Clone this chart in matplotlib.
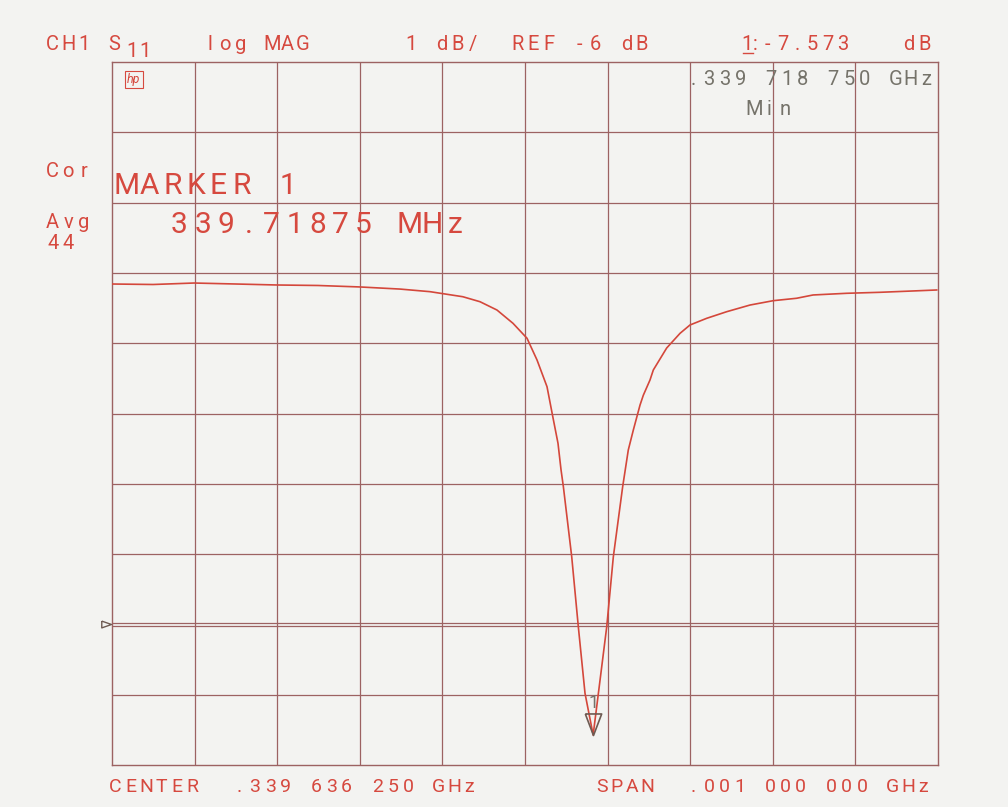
"""
Network analyzer screen dump: S11 log magnitude around a 339.7 MHz resonance.
"""
import matplotlib
matplotlib.use("Agg")
import matplotlib.pyplot as plt
from matplotlib.lines import Line2D

W, H = 1008, 807

# ── Instrument settings ──
center_mhz = 339.63625
span_mhz = 1.0
ref_db = -6.0
db_per_div = 1.0
marker_mhz = 339.71875
marker_db = -7.573

# ── Trace (MHz, dB) ──
freq_mhz = [
    339.1363, 339.1860, 339.2355, 339.2864, 339.3360, 339.3856, 339.4365,
    339.4850, 339.5212, 339.5610, 339.5818, 339.6023, 339.6217, 339.6387,
    339.6508, 339.6629, 339.6702, 339.6762, 339.6799, 339.6827, 339.6928,
    339.7008, 339.7089, 339.71875, 339.7251, 339.7352, 339.7432, 339.7545,
    339.7613, 339.7674, 339.7755, 339.7795, 339.7876, 339.7916, 339.8078,
    339.8240, 339.8360, 339.8562, 339.8804, 339.9087, 339.9369, 339.9650,
    339.9850, 340.0258, 340.0660, 340.1060, 340.1347,
]
s11_db = [
    -1.158, -1.165, -1.144, -1.158, -1.172, -1.179, -1.200,
    -1.230, -1.267, -1.339, -1.410, -1.528, -1.717, -1.930,
    -2.239, -2.619, -3.064, -3.424, -3.804, -4.041, -5.037,
    -6.033, -6.980, -7.573, -6.980, -6.033, -5.037, -4.041,
    -3.519, -3.235, -2.880, -2.740, -2.523, -2.381, -2.068,
    -1.859, -1.741, -1.646, -1.552, -1.457, -1.395, -1.361,
    -1.314, -1.290, -1.276, -1.257, -1.243,
]

PAPER = "#f3f3f1"
GRID = "#9c6262"
TRACE = "#d4473b"
RED_TXT = "#d6493f"
GRAY_TXT = "#75736a"
MARK = "#6e5a52"
FONT = ["Roboto", "DejaVu Sans"]


def put(text, x0, base, pitch, size, color):
    """Plotter-style fixed pitch text, x0/base in image pixels."""
    for i, ch in enumerate(text):
        if ch == " ":
            continue
        cx = x0 + pitch * (i + 0.5)
        fig.text(cx / W, 1 - base / H, ch, ha="center", va="baseline",
                 fontsize=size, color=color, family=FONT, fontweight="normal")


fig = plt.figure(figsize=(W / 100, H / 100), dpi=100, facecolor=PAPER)
ax = fig.add_axes([112 / W, 1 - 765 / H, 826 / W, 703 / H], facecolor=PAPER)

x_lo = center_mhz - span_mhz / 2
x_hi = center_mhz + span_mhz / 2
y_lo = ref_db - 2 * db_per_div
y_hi = ref_db + 8 * db_per_div
ax.set_xlim(x_lo, x_hi)
ax.set_ylim(y_lo, y_hi)

for i in range(1, 10):
    ax.axvline(x_lo + i * span_mhz / 10, color=GRID, lw=0.9, zorder=1)
for i in range(1, 10):
    y = y_lo + i * db_per_div
    if abs(y - ref_db) < 1e-9:
        continue
    ax.axhline(y, color=GRID, lw=0.9, zorder=1)
# reference line (doubled)
ax.axhline(ref_db + 0.025, color=GRID, lw=0.9, zorder=1)
ax.axhline(ref_db - 0.028, color=GRID, lw=0.9, zorder=1)

for s in ax.spines.values():
    s.set_color(GRID)
    s.set_linewidth(1.0)
ax.set_xticks([])
ax.set_yticks([])

ax.plot(freq_mhz, s11_db, color=TRACE, lw=1.2, zorder=3)

# marker triangle, apex on the minimum
tri_down = [(-0.38, 1.0), (0.38, 1.0), (0.0, 0.0), (-0.38, 1.0)]
ax.plot([marker_mhz], [marker_db], marker=tri_down, ms=31, mfc="none",
        mec=MARK, mew=1.2, zorder=4, clip_on=False)
ax.text(marker_mhz, marker_db + 0.33, "1", ha="center", va="bottom",
        fontsize=13, color=GRAY_TXT, family=FONT, zorder=4)

# reference level pointer on the left edge
tri_right = [(-1.0, 0.35), (0.0, 0.0), (-1.0, -0.35), (-1.0, 0.35)]
ax.plot([x_lo - 0.0015], [ref_db], marker=tri_right, ms=14, mfc="none",
        mec=MARK, mew=1.0, clip_on=False, zorder=4)

# hp logo
fig.text(134 / W, 1 - 83 / H, "hp", ha="center", va="baseline", fontsize=9,
         style="italic", color=RED_TXT, family=FONT,
         bbox=dict(boxstyle="square,pad=0.15", fc="none", ec=RED_TXT, lw=0.8))

# ── Header ──
hs = 14.5
put("CH1", 45, 50, 15.5, hs, RED_TXT)
put("S", 106, 50, 15.5, hs, RED_TXT)
put("11", 125, 57, 13.5, hs, RED_TXT)
put("log MAG", 202, 50, 15.5, hs, RED_TXT)
put("1 dB/", 403, 50, 15.5, hs, RED_TXT)
put("REF -6 dB", 510, 50, 15.5, hs, RED_TXT)
put("1", 740, 50, 14, hs, RED_TXT)
put(":", 749, 50, 12, hs, RED_TXT)
put("-7.573", 760, 50, 15, hs, RED_TXT)
put("dB", 900, 50, 16.5, hs, RED_TXT)
fig.add_artist(Line2D([743 / W, 753 / W], [1 - 53 / H, 1 - 53 / H],
                      color=RED_TXT, lw=1.0))

put(".339 718 750 GHz", 686, 85, 15.5, hs, GRAY_TXT)
put("Min", 746, 115, 15.5, hs, GRAY_TXT)

# ── Left annotations ──
put("Cor", 45, 177, 15.5, hs, RED_TXT)
put("Avg", 45, 228, 15.5, hs, RED_TXT)
put("44", 45, 249, 15.5, hs, RED_TXT)
put("MARKER 1", 115, 194, 23, 21.5, RED_TXT)
put("339.71875 MHz", 168, 233, 23, 21.5, RED_TXT)

# ── Footer ──
fs = 14
put("CENTER", 108, 792, 15.3, fs, RED_TXT)
put(".339 636 250 GHz", 232, 792, 15.3, fs, RED_TXT)
put("SPAN", 594, 792, 15.3, fs, RED_TXT)
put(".001 000 000 GHz", 686, 792, 15.3, fs, RED_TXT)

fig.savefig("out.png", dpi=100, facecolor=PAPER)
